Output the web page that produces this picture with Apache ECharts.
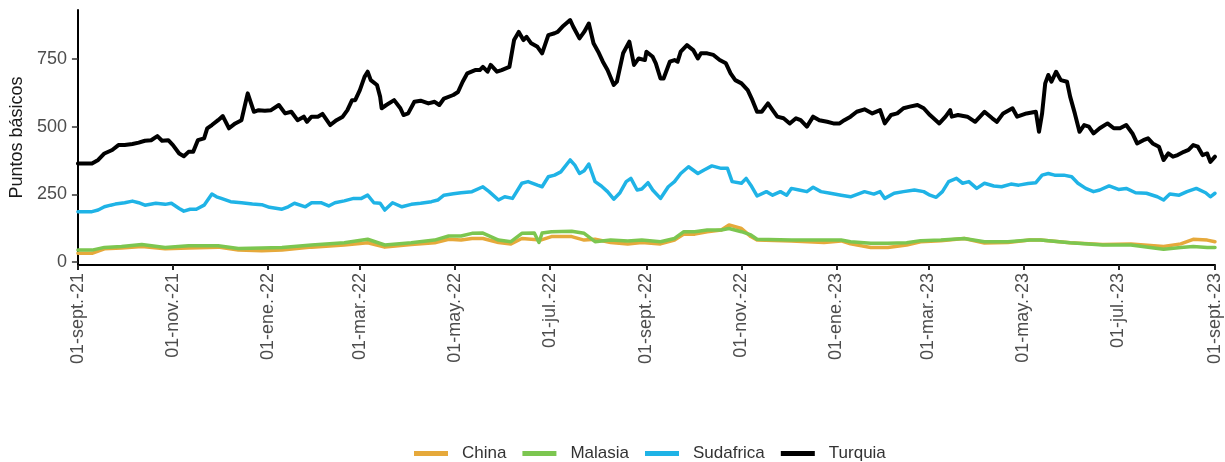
<!DOCTYPE html>
<html>
<head>
<meta charset="utf-8">
<script src="https://cdn.jsdelivr.net/npm/echarts@6/dist/echarts.min.js"></script>
<style>
  html, body { margin: 0; padding: 0; background: #ffffff; }
  #chart { width: 1225px; height: 462px; }
</style>
</head>
<body>
<div id="chart"></div>
<script>
// Spreads in basis points; each pair is [days since 01-sept-2021, value]
const china = [[0,32],[9,32],[17,49],[28,52],[41,57],[56,49],[71,52],[90,55],[103,44],[118,42],[131,44],[150,55],[171,63],[186,71],[197,55],[214,65],[229,71],[238,84],[246,81],[253,87],[260,87],[270,72],[278,67],[285,87],[297,81],[304,94],[317,94],[325,81],[332,84],[342,72],[353,67],[362,72],[374,67],[383,81],[389,103],[396,103],[404,112],[413,118],[418,137],[426,124],[432,94],[436,81],[458,78],[479,72],[490,78],[496,67],[509,54],[520,54],[532,63],[541,75],[554,79],[569,87],[582,70],[597,72],[611,81],[618,81],[637,71],[658,65],[676,67],[697,57],[708,67],[716,84],[725,81],[730,75]];

const malasia = [[0,44],[9,44],[17,54],[28,57],[41,65],[56,54],[71,60],[90,60],[103,50],[118,52],[131,54],[150,63],[171,71],[186,84],[197,63],[214,71],[229,81],[238,96],[246,96],[253,106],[260,107],[270,81],[278,75],[285,106],[293,107],[296,72],[298,107],[304,112],[317,114],[325,106],[332,75],[342,81],[353,78],[362,81],[374,75],[383,87],[389,112],[396,112],[404,118],[413,118],[418,124],[426,112],[432,100],[436,84],[458,81],[479,81],[490,81],[496,75],[509,69],[520,69],[532,71],[541,79],[554,81],[569,87],[582,75],[597,75],[611,81],[618,81],[637,71],[658,63],[676,63],[697,47],[708,54],[716,57],[725,54],[730,54]];

const sudafrica = [[0,186],[9,186],[13,192],[17,204],[21,210],[24,214],[30,219],[35,225],[39,219],[43,210],[50,217],[56,213],[60,217],[65,198],[68,188],[72,195],[76,195],[81,210],[86,251],[89,241],[92,235],[98,223],[105,219],[112,214],[118,212],[123,202],[131,195],[135,204],[139,217],[146,204],[150,219],[156,219],[161,207],[165,219],[171,226],[177,235],[182,235],[186,247],[190,219],[194,217],[197,192],[202,219],[208,204],[214,213],[220,217],[227,223],[231,229],[235,247],[241,252],[246,256],[253,260],[260,278],[264,260],[270,229],[274,241],[279,235],[285,291],[289,297],[295,284],[298,278],[302,315],[306,321],[310,333],[316,377],[319,358],[322,327],[325,337],[328,362],[332,297],[336,281],[340,260],[344,232],[348,256],[352,297],[355,309],[359,266],[362,270],[366,293],[369,266],[374,235],[379,278],[383,297],[387,327],[392,352],[398,327],[402,340],[407,355],[413,346],[417,346],[420,297],[426,291],[429,309],[432,284],[436,244],[442,260],[446,247],[451,260],[455,247],[458,272],[463,266],[468,260],[472,276],[477,260],[483,254],[490,247],[496,241],[505,260],[511,251],[515,260],[518,235],[524,254],[530,260],[537,266],[543,260],[547,247],[551,239],[555,260],[559,297],[564,309],[568,291],[572,297],[577,272],[582,291],[588,281],[593,278],[599,288],[604,284],[610,290],[615,293],[619,321],[623,327],[627,321],[633,321],[638,315],[642,291],[647,272],[652,260],[656,266],[662,281],[668,268],[673,272],[679,256],[686,254],[693,241],[697,229],[701,251],[707,247],[712,260],[718,272],[724,256],[727,241],[730,254]];

const turquia = [[0,364],[9,364],[13,377],[17,401],[22,414],[26,432],[30,432],[35,436],[39,441],[43,448],[47,450],[51,465],[54,448],[58,450],[61,432],[65,401],[68,391],[71,407],[74,407],[77,450],[81,457],[83,494],[86,506],[90,524],[93,539],[97,494],[101,512],[105,524],[107,574],[109,623],[113,555],[116,561],[120,559],[124,561],[129,580],[133,549],[137,555],[141,524],[145,537],[147,518],[150,537],[154,537],[157,547],[162,506],[166,524],[170,537],[173,561],[176,598],[178,598],[181,635],[184,684],[186,703],[188,672],[192,654],[194,611],[195,568],[198,580],[203,598],[207,568],[209,543],[212,549],[216,592],[220,596],[225,586],[229,592],[232,580],[235,604],[241,617],[244,628],[247,666],[250,697],[255,709],[258,709],[260,721],[263,703],[265,728],[269,703],[272,709],[277,721],[280,820],[283,850],[286,820],[288,832],[291,808],[295,795],[298,771],[302,838],[306,845],[308,850],[311,869],[316,894],[318,869],[322,826],[325,850],[328,881],[331,808],[334,777],[337,740],[340,709],[344,654],[346,666],[350,771],[354,814],[357,728],[360,752],[364,746],[365,777],[369,758],[371,734],[374,678],[376,678],[380,740],[383,746],[385,740],[387,777],[391,801],[395,783],[398,752],[400,771],[404,771],[408,765],[412,746],[416,734],[419,697],[422,672],[426,660],[430,635],[433,598],[436,555],[439,555],[443,586],[446,561],[449,537],[453,531],[457,512],[461,531],[464,524],[468,500],[472,537],[476,524],[481,518],[485,512],[489,512],[492,524],[496,537],[500,555],[505,564],[510,549],[515,561],[518,512],[522,543],[526,549],[530,568],[534,574],[539,580],[543,568],[547,543],[553,512],[557,537],[560,561],[561,537],[565,543],[571,537],[576,518],[582,555],[587,531],[590,518],[594,549],[600,568],[603,537],[609,549],[615,555],[617,481],[619,549],[621,660],[623,691],[625,666],[628,703],[631,672],[635,666],[637,611],[640,549],[643,481],[646,506],[649,500],[652,475],[656,494],[661,512],[665,494],[669,494],[673,506],[677,475],[680,438],[684,450],[687,457],[690,438],[694,426],[697,377],[700,401],[703,389],[706,395],[710,407],[713,414],[716,432],[719,426],[722,395],[725,401],[727,370],[730,389]];

const seriesNames = ['China', 'Malasia', 'Sudafrica', 'Turquia'];
const seriesColors = ['#E6A93B', '#7CC650', '#1FB3E6', '#000000'];
const seriesWidths = [3.5, 3.5, 3.5, 4];
const yTicks = [0, 250, 500, 750];
const mesesAbrev = ['ene', 'feb', 'mar', 'abr', 'may', 'jun', 'jul', 'ago', 'sept', 'oct', 'nov', 'dic'];

const MS_DAY = 86400000;
const START = Date.UTC(2021, 8, 1);

// Axis ticks on the first day of every other month, Sep 2021 – Sep 2023,
// expressed as days since the start date
const xTicks = [];
for (let k = 0; k <= 12; k++) {
  xTicks.push(Math.round((Date.UTC(2021, 8 + 2 * k, 1) - START) / MS_DAY));
}

function formatFecha(days) {
  const dt = new Date(START + days * MS_DAY);
  const yy = String(dt.getUTCFullYear()).slice(2);
  return '01-' + mesesAbrev[dt.getUTCMonth()] + '.-' + yy;
}

const rawSeries = [china, malasia, sudafrica, turquia];

const chart = echarts.init(document.getElementById('chart'), null, { renderer: 'canvas' });

chart.setOption({
  animation: false,
  backgroundColor: '#ffffff',
  textStyle: { fontFamily: 'Liberation Sans, Arial, sans-serif' },
  grid: { left: 76, right: 10, top: 10, bottom: 197, containLabel: false },
  legend: {
    left: 409,
    top: 440,
    itemWidth: 34,
    itemHeight: 5,
    itemGap: 16,
    icon: 'rect',
    textStyle: { fontSize: 17, color: '#333333', padding: [0, 0, 0, 9] },
    data: seriesNames
  },
  xAxis: {
    type: 'value',
    min: 0,
    max: xTicks[xTicks.length - 1],
    axisLine: { show: true, onZero: false, lineStyle: { color: '#000000', width: 2 } },
    axisTick: { show: true, length: 5, lineStyle: { color: '#222222', width: 2 }, customValues: xTicks },
    axisLabel: {
      rotate: 90,
      fontSize: 18,
      color: '#4D4D4D',
      margin: 8,
      customValues: xTicks,
      showMinLabel: true,
      showMaxLabel: true,
      formatter: formatFecha
    },
    splitLine: { show: false }
  },
  yAxis: {
    type: 'value',
    min: -11,
    max: 931,
    name: 'Puntos básicos',
    nameLocation: 'middle',
    nameGap: 46,
    nameRotate: 90,
    nameTextStyle: { fontSize: 18, color: '#1A1A1A' },
    axisLine: { show: true, lineStyle: { color: '#000000', width: 2 } },
    axisTick: { show: true, length: 6, lineStyle: { color: '#333333', width: 1.5 }, customValues: yTicks },
    axisLabel: { fontSize: 18, color: '#4D4D4D', margin: 11, customValues: yTicks },
    splitLine: { show: false }
  },
  series: rawSeries.map((pts, i) => ({
    name: seriesNames[i],
    type: 'line',
    data: pts,
    showSymbol: false,
    symbol: 'none',
    smooth: false,
    color: seriesColors[i],
    lineStyle: { color: seriesColors[i], width: seriesWidths[i], join: 'round', cap: 'round' },
    z: 2 + i
  }))
});
</script>
</body>
</html>
